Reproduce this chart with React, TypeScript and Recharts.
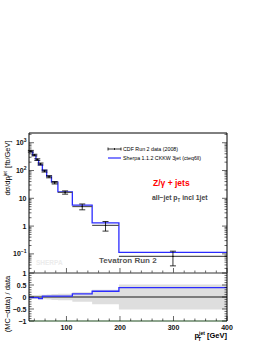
import React from 'react';
import {
  ComposedChart,
  Line,
  Scatter,
  ErrorBar,
  Area,
  XAxis,
  YAxis,
  ReferenceLine,
} from 'recharts';

// jet pT bin edges [GeV]
const binEdges = [30, 37, 43, 48, 55, 63, 72, 84, 111, 148, 198, 400];
// Sherpa prediction per bin [fb/GeV]
const mcValues = [480, 350, 240, 160, 100, 62, 38, 17, 5.7, 1.31, 0.113];
// CDF Run 2 data per bin [fb/GeV]
const dataValues = [495, 360, 248, 172, 96, 60, 36.5, 16.3, 5.05, 1.06, 0.081];
const dataErrors = [35, 25, 17, 14, 8, 5.4, 3.7, 2.2, 1.2, 0.4, 0.044];
// (MC - data) / data and the data uncertainty band
const ratioValues = [-0.03, -0.03, -0.03, -0.07, 0.04, 0.04, 0.04, 0.04, 0.13, 0.24, 0.39];
const ratioBand = [0.08, 0.08, 0.08, 0.09, 0.09, 0.1, 0.12, 0.14, 0.2, 0.3, 0.52];

const xMajorTicks = [100, 200, 300, 400];
const xTicks = [40, 60, 80, 100, 120, 140, 160, 180, 200, 220, 240, 260, 280, 300, 320, 340, 360, 380, 400];
const yMainMajor = [0.1, 1, 10, 100, 1000];
const yMainLabels = [['10', '\u22121'], ['1', ''], ['10', ''], ['10', '2'], ['10', '3']];
const yRatioMajor = [-1, -0.5, 0, 0.5, 1];
const yRatioLabels = ['\u22121', '\u22120.5', '0', '0.5', '1'];

const FONT = '"Liberation Sans", Arial, Helvetica, sans-serif';
const BLUE = '#2b2bff';

const yMainTicks: number[] = [];
for (let k = -2; k <= 3; k++) {
  for (let d = 1; d <= 9; d++) {
    const v = Number((d * Math.pow(10, k)).toPrecision(3));
    if (v >= 0.021 && v <= 2200) yMainTicks.push(v);
  }
}
const yRatioTicks: number[] = [];
for (let i = -10; i <= 10; i++) yRatioTicks.push(Number((i / 10).toFixed(1)));

const mcStep = binEdges.map((e, i) => ({
  x: e,
  y: mcValues[Math.min(i, mcValues.length - 1)],
}));

const dataPoints = dataValues.map((v, i) => ({
  x: (binEdges[i] + binEdges[i + 1]) / 2,
  y: v,
  ex: (binEdges[i + 1] - binEdges[i]) / 2,
  ey: dataErrors[i],
}));

const ratioStep = binEdges.map((e, i) => {
  const k = Math.min(i, ratioValues.length - 1);
  return { x: e, r: ratioValues[k], band: [-ratioBand[k], ratioBand[k]] };
});

const makeXTick = (dir: number, withLabel: boolean) => (props: any) => {
  const { x, y, payload } = props;
  const major = xMajorTicks.includes(payload.value);
  const len = major ? 5 : 2.5;
  return (
    <g>
      <line x1={x} x2={x} y1={y} y2={y + dir * len} stroke="#000" strokeWidth={0.6} />
      {withLabel && major && (
        <text x={x} y={y + 9} textAnchor="middle" fontSize={7} fontWeight="bold" fill="#111" fontFamily={FONT}>
          {payload.value}
        </text>
      )}
    </g>
  );
};

const makeYTick = (dir: number, majors: number[], labels: any[] | null, isLog: boolean) => (props: any) => {
  const { x, y, payload } = props;
  const idx = majors.indexOf(payload.value);
  const major = idx >= 0;
  const len = major ? 5 : 2.5;
  let label = null;
  if (labels && major) {
    if (isLog) {
      const [base, exp] = labels[idx];
      label = (
        <text x={x - 2.5} y={y + 2.5} textAnchor="end" fontSize={7} fontWeight="bold" fill="#111" fontFamily={FONT}>
          {base}
          {exp && (
            <tspan dy={-3} fontSize={5}>
              {exp}
            </tspan>
          )}
        </text>
      );
    } else {
      label = (
        <text x={x - 2.5} y={y + 2.5} textAnchor="end" fontSize={7} fontWeight="bold" fill="#111" fontFamily={FONT}>
          {labels[idx]}
        </text>
      );
    }
  }
  return (
    <g>
      <line x1={x} x2={x + dir * len} y1={y} y2={y} stroke="#000" strokeWidth={0.6} />
      {label}
    </g>
  );
};

const App: React.FC = () => {
  return (
    <div style={{ position: 'absolute', left: 0, top: 0, width: 266, height: 344, background: '#fff' }}>
      <div style={{ position: 'absolute', left: 0, top: 0 }}>
        <ComposedChart width={266} height={274} margin={{ top: 132, right: 38, bottom: 0, left: 0 }}>
          <XAxis
            type="number"
            dataKey="x"
            domain={[30, 400]}
            allowDataOverflow
            ticks={xTicks}
            interval={0}
            height={1}
            tickSize={0}
            tickMargin={0}
            tickLine={false}
            axisLine={{ stroke: '#777' }}
            tick={makeXTick(-1, false)}
          />
          <XAxis
            xAxisId="top"
            orientation="top"
            type="number"
            domain={[30, 400]}
            allowDataOverflow
            ticks={xTicks}
            interval={0}
            height={1}
            tickSize={0}
            tickMargin={0}
            tickLine={false}
            axisLine={{ stroke: '#000' }}
            tick={makeXTick(1, false)}
          />
          <YAxis
            type="number"
            scale="log"
            domain={[0.0205, 2240]}
            allowDataOverflow
            ticks={yMainTicks}
            interval={0}
            width={29}
            tickSize={0}
            tickMargin={0}
            tickLine={false}
            axisLine={{ stroke: '#000' }}
            tick={makeYTick(1, yMainMajor, yMainLabels, true)}
          />
          <YAxis
            yAxisId="right"
            orientation="right"
            type="number"
            scale="log"
            domain={[0.0205, 2240]}
            allowDataOverflow
            ticks={yMainTicks}
            interval={0}
            width={1}
            tickSize={0}
            tickMargin={0}
            tickLine={false}
            axisLine={{ stroke: '#000' }}
            tick={makeYTick(-1, yMainMajor, null, true)}
          />
          <Line
            data={mcStep}
            dataKey="y"
            type="stepAfter"
            stroke={BLUE}
            strokeWidth={1.3}
            dot={false}
            isAnimationActive={false}
          />
          <Scatter
            data={dataPoints}
            dataKey="y"
            fill="#000"
            isAnimationActive={false}
            shape={(p: any) => <circle cx={p.cx} cy={p.cy} r={0.7} fill="#000" />}
          >
            <ErrorBar dataKey="ex" direction="x" width={0} stroke="#555" strokeWidth={1.2} />
            <ErrorBar dataKey="ey" direction="y" width={3} stroke="#000" strokeWidth={0.8} />
          </Scatter>
        </ComposedChart>
      </div>

      <div style={{ position: 'absolute', left: 0, top: 262 }}>
        <ComposedChart width={266} height={82} data={ratioStep} margin={{ top: 10, right: 38, bottom: 22, left: 0 }}>
          <XAxis
            type="number"
            dataKey="x"
            domain={[30, 400]}
            allowDataOverflow
            ticks={xTicks}
            interval={0}
            height={1}
            tickSize={0}
            tickMargin={0}
            tickLine={false}
            axisLine={{ stroke: '#1d4a1d' }}
            tick={makeXTick(-1, true)}
          />
          <XAxis
            xAxisId="top"
            orientation="top"
            type="number"
            domain={[30, 400]}
            allowDataOverflow
            ticks={xTicks}
            interval={0}
            height={1}
            tickSize={0}
            tickMargin={0}
            tickLine={false}
            axisLine={{ stroke: '#777' }}
            tick={makeXTick(1, false)}
          />
          <YAxis
            type="number"
            domain={[-1, 1]}
            allowDataOverflow
            ticks={yRatioTicks}
            interval={0}
            width={29}
            tickSize={0}
            tickMargin={0}
            tickLine={false}
            axisLine={{ stroke: '#000' }}
            tick={makeYTick(1, yRatioMajor, yRatioLabels, false)}
          />
          <YAxis
            yAxisId="right"
            orientation="right"
            type="number"
            domain={[-1, 1]}
            allowDataOverflow
            ticks={yRatioTicks}
            interval={0}
            width={1}
            tickSize={0}
            tickMargin={0}
            tickLine={false}
            axisLine={{ stroke: '#000' }}
            tick={makeYTick(-1, yRatioMajor, null, false)}
          />
          <Area
            dataKey="band"
            type="stepAfter"
            fill="#dedede"
            fillOpacity={1}
            stroke="none"
            isAnimationActive={false}
          />
          <ReferenceLine y={0} stroke="#5a5a5a" strokeWidth={1.6} />
          <Line
            dataKey="r"
            type="stepAfter"
            stroke={BLUE}
            strokeWidth={1.3}
            dot={false}
            isAnimationActive={false}
          />
        </ComposedChart>
      </div>

      <svg
        width={266}
        height={344}
        style={{ position: 'absolute', left: 0, top: 0, pointerEvents: 'none' }}
        fontFamily={FONT}
      >
        {/* legend */}
        <line x1={108} x2={121} y1={149} y2={149} stroke="#000" strokeWidth={0.8} />
        <line x1={108} x2={108} y1={147.5} y2={150.5} stroke="#000" strokeWidth={0.8} />
        <line x1={121} x2={121} y1={147.5} y2={150.5} stroke="#000" strokeWidth={0.8} />
        <line x1={114.5} x2={114.5} y1={148} y2={150} stroke="#000" strokeWidth={0.8} />
        <text x={123} y={151} fontSize={5.3} fill="#000">CDF Run 2 data (2008)</text>
        <line x1={108} x2={121} y1={158} y2={158} stroke={BLUE} strokeWidth={1.2} />
        <text x={123} y={160} fontSize={5.3} fill="#000">Sherpa 1.1.2 CKKW 3jet (cteq6ll)</text>

        <text x={153} y={186} fontSize={8.5} fontWeight="bold" fill="#ff0000">Z/γ + jets</text>
        <text x={152} y={200} fontSize={6.8} fontWeight="bold" fill="#444">
          all−jet p<tspan dy={1.8} fontSize={4.5}>T</tspan>
          <tspan dy={-1.8}> incl 1jet</tspan>
        </text>
        <text x={99} y={263} fontSize={8} fontWeight="bold" fill="#555">Tevatron Run 2</text>
        <text x={36} y={265} fontSize={6.5} fontWeight="bold" fill="#ececec">SHERPA</text>

        {/* axis titles */}
        <text transform="translate(10,168) rotate(-90)" textAnchor="middle" fontSize={7.5} fill="#000">
          dσ/dp<tspan dy={-3} fontSize={5}>jet</tspan>
          <tspan dx={-7} dy={5} fontSize={5}>T</tspan>
          <tspan dx={5} dy={-2}> [fb/GeV]</tspan>
        </text>
        <text transform="translate(10,304) rotate(-90)" textAnchor="middle" fontSize={7.5} fill="#000">
          (MC−data) / data
        </text>
        <text x={227} y={338} textAnchor="end" fontSize={7.5} fontWeight="bold" fill="#000">
          p<tspan dy={-3.5} fontSize={5}>jet</tspan>
          <tspan dx={-7} dy={6} fontSize={5}>T</tspan>
          <tspan dx={6} dy={-2.5}>[GeV]</tspan>
        </text>
      </svg>
    </div>
  );
};

export default App;
